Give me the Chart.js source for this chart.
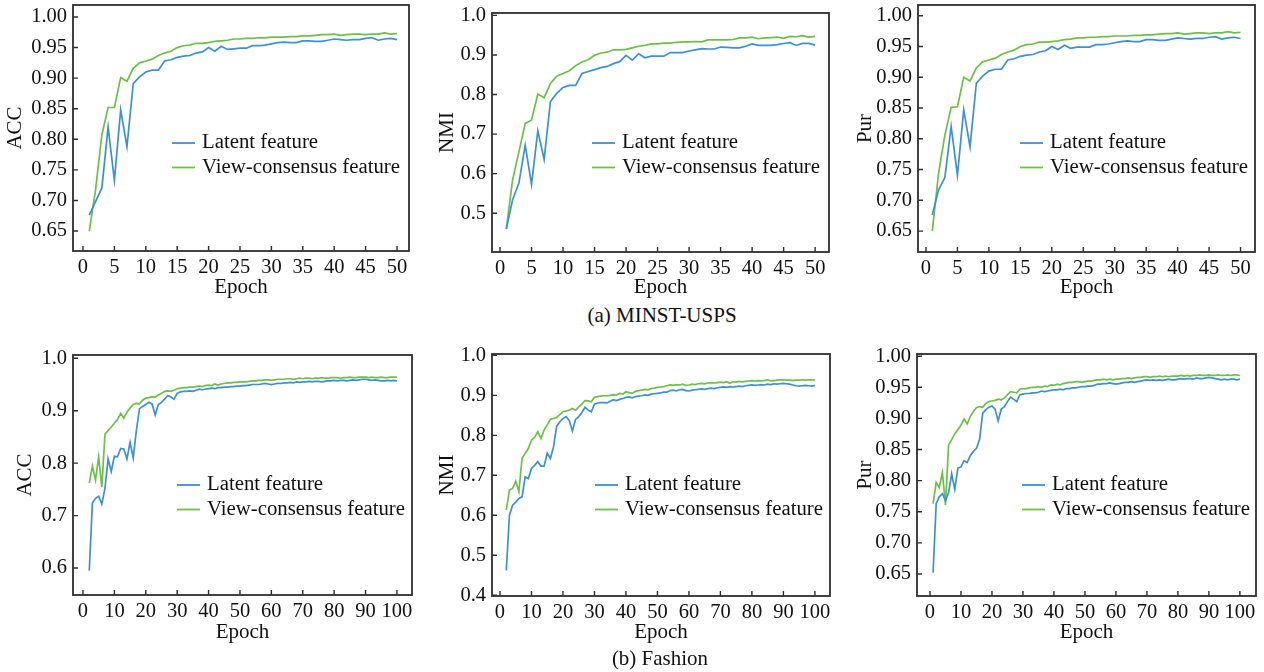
<!DOCTYPE html>
<html>
<head>
<meta charset="utf-8">
<title>Latent vs view-consensus feature</title>
<script src="https://cdn.jsdelivr.net/npm/chart.js@4.4.1/dist/chart.umd.min.js"></script>
<style>
  html, body { margin: 0; padding: 0; background: #fff; }
  body { width: 1264px; height: 672px; position: relative; overflow: hidden;
         font-family: "Liberation Serif", "Times New Roman", serif; }
  canvas { position: absolute; }
  .caption { position: absolute; font-size: 21px; color: #111; white-space: nowrap;
             transform: translate(-50%, -50%); }
</style>
</head>
<body>
<canvas id="mnistAcc"></canvas>
<canvas id="mnistNmi"></canvas>
<canvas id="mnistPur"></canvas>
<canvas id="fashionAcc"></canvas>
<canvas id="fashionNmi"></canvas>
<canvas id="fashionPur"></canvas>
<div class="caption" style="left:662px; top:315px;">(a) MINST-USPS</div>
<div class="caption" style="left:660px; top:658px;">(b) Fashion</div>

<script>
// epochs (x categories)
const epochs50 = Array.from({length: 50}, (_, i) => i + 1);
const epochs100 = Array.from({length: 100}, (_, i) => i + 1);
const epochsFrom2 = Array.from({length: 99}, (_, i) => i + 2);

// tick labels
const xTicks50 = [0, 5, 10, 15, 20, 25, 30, 35, 40, 45, 50];
const xTicks100 = [0, 10, 20, 30, 40, 50, 60, 70, 80, 90, 100];
const yTicks065 = [0.65, 0.70, 0.75, 0.80, 0.85, 0.90, 0.95, 1.00];
const yTicks05 = [0.5, 0.6, 0.7, 0.8, 0.9, 1.0];
const yTicks06 = [0.6, 0.7, 0.8, 0.9, 1.0];
const yTicks04 = [0.4, 0.5, 0.6, 0.7, 0.8, 0.9, 1.0];

const legendLabels = ['Latent feature', 'View-consensus feature'];

// (a) MINST-USPS, epochs 1..50
const mnistAccLatent = [
  0.676, 0.698, 0.720, 0.820, 0.733, 0.848, 0.788, 0.891, 0.902, 0.910,
  0.913, 0.913, 0.928, 0.930, 0.934, 0.936, 0.937, 0.941, 0.943, 0.950,
  0.944, 0.952, 0.947, 0.948, 0.949, 0.949, 0.953, 0.953, 0.954, 0.956,
  0.958, 0.959, 0.958, 0.958, 0.961, 0.961, 0.960, 0.960, 0.962, 0.964,
  0.963, 0.962, 0.963, 0.963, 0.965, 0.966, 0.962, 0.964, 0.965, 0.963];
const mnistAccView = [
  0.650, 0.717, 0.807, 0.852, 0.852, 0.901, 0.895, 0.916, 0.925, 0.928,
  0.931, 0.937, 0.941, 0.944, 0.950, 0.953, 0.954, 0.957, 0.957, 0.958,
  0.960, 0.961, 0.962, 0.964, 0.964, 0.965, 0.965, 0.966, 0.966, 0.967,
  0.967, 0.967, 0.968, 0.968, 0.969, 0.969, 0.970, 0.971, 0.971, 0.972,
  0.970, 0.971, 0.972, 0.972, 0.971, 0.972, 0.972, 0.974, 0.972, 0.973];

const mnistNmiLatent = [
  0.460, 0.534, 0.576, 0.672, 0.573, 0.708, 0.636, 0.782, 0.803, 0.818,
  0.823, 0.823, 0.853, 0.858, 0.863, 0.868, 0.871, 0.878, 0.883, 0.899,
  0.887, 0.903, 0.893, 0.897, 0.897, 0.897, 0.906, 0.906, 0.906, 0.910,
  0.913, 0.916, 0.915, 0.915, 0.920, 0.919, 0.918, 0.918, 0.922, 0.928,
  0.924, 0.924, 0.924, 0.926, 0.929, 0.931, 0.924, 0.929, 0.929, 0.925];
const mnistNmiView = [
  0.460, 0.584, 0.655, 0.727, 0.735, 0.801, 0.792, 0.828, 0.846, 0.853,
  0.860, 0.873, 0.882, 0.888, 0.899, 0.905, 0.907, 0.913, 0.913, 0.914,
  0.918, 0.922, 0.924, 0.928, 0.928, 0.930, 0.930, 0.932, 0.933, 0.933,
  0.934, 0.933, 0.938, 0.938, 0.938, 0.938, 0.939, 0.943, 0.943, 0.945,
  0.941, 0.943, 0.944, 0.945, 0.942, 0.947, 0.946, 0.949, 0.945, 0.947];

const mnistPurLatent = [
  0.676, 0.717, 0.737, 0.820, 0.741, 0.847, 0.787, 0.890, 0.902, 0.910,
  0.913, 0.913, 0.928, 0.930, 0.934, 0.936, 0.937, 0.941, 0.943, 0.950,
  0.945, 0.952, 0.947, 0.949, 0.949, 0.949, 0.953, 0.953, 0.954, 0.956,
  0.958, 0.959, 0.958, 0.958, 0.961, 0.961, 0.960, 0.960, 0.962, 0.964,
  0.963, 0.962, 0.963, 0.963, 0.965, 0.966, 0.962, 0.964, 0.965, 0.963];
const mnistPurView = [
  0.650, 0.744, 0.806, 0.851, 0.852, 0.900, 0.894, 0.915, 0.925, 0.928,
  0.931, 0.937, 0.941, 0.944, 0.950, 0.953, 0.954, 0.957, 0.957, 0.958,
  0.959, 0.961, 0.962, 0.964, 0.964, 0.965, 0.965, 0.966, 0.966, 0.967,
  0.967, 0.967, 0.968, 0.968, 0.969, 0.969, 0.970, 0.971, 0.971, 0.972,
  0.970, 0.971, 0.972, 0.972, 0.971, 0.972, 0.972, 0.974, 0.972, 0.973];

// (b) Fashion, ACC and NMI from epoch 2, Pur from epoch 1
const fashionAccLatent = [
         0.595, 0.724, 0.733, 0.737, 0.722, 0.752, 0.808, 0.784, 0.813,
  0.812, 0.828, 0.827, 0.808, 0.840, 0.810, 0.862, 0.904, 0.908, 0.912,
  0.916, 0.913, 0.892, 0.912, 0.916, 0.922, 0.929, 0.926, 0.922, 0.933,
  0.936, 0.937, 0.937, 0.938, 0.937, 0.939, 0.941, 0.940, 0.941, 0.942,
  0.943, 0.942, 0.944, 0.944, 0.945, 0.945, 0.946, 0.946, 0.947, 0.947,
  0.948, 0.948, 0.949, 0.950, 0.950, 0.950, 0.951, 0.952, 0.951, 0.950,
  0.951, 0.952, 0.952, 0.953, 0.953, 0.954, 0.953, 0.955, 0.954, 0.955,
  0.955, 0.956, 0.955, 0.956, 0.956, 0.955, 0.956, 0.957, 0.957, 0.958,
  0.957, 0.958, 0.958, 0.957, 0.958, 0.959, 0.958, 0.959, 0.960, 0.960,
  0.959, 0.958, 0.959, 0.958, 0.957, 0.957, 0.958, 0.957, 0.958, 0.957];
const fashionAccView = [
         0.762, 0.794, 0.768, 0.812, 0.754, 0.855, 0.862, 0.869, 0.876,
  0.883, 0.895, 0.886, 0.897, 0.905, 0.912, 0.914, 0.913, 0.920, 0.924,
  0.925, 0.927, 0.926, 0.930, 0.933, 0.937, 0.938, 0.937, 0.939, 0.942,
  0.943, 0.944, 0.944, 0.945, 0.945, 0.946, 0.947, 0.946, 0.948, 0.949,
  0.948, 0.951, 0.949, 0.951, 0.952, 0.953, 0.953, 0.954, 0.954, 0.955,
  0.955, 0.955, 0.956, 0.957, 0.957, 0.958, 0.958, 0.959, 0.959, 0.958,
  0.959, 0.960, 0.960, 0.960, 0.961, 0.961, 0.960, 0.961, 0.962, 0.961,
  0.962, 0.962, 0.961, 0.962, 0.962, 0.963, 0.962, 0.962, 0.963, 0.963,
  0.963, 0.962, 0.963, 0.963, 0.964, 0.963, 0.963, 0.964, 0.964, 0.964,
  0.963, 0.964, 0.963, 0.963, 0.964, 0.963, 0.963, 0.964, 0.964, 0.964];

const fashionNmiLatent = [
         0.462, 0.600, 0.625, 0.633, 0.642, 0.646, 0.696, 0.692, 0.717,
  0.725, 0.734, 0.723, 0.723, 0.755, 0.742, 0.771, 0.823, 0.834, 0.842,
  0.847, 0.837, 0.811, 0.840, 0.847, 0.857, 0.870, 0.863, 0.859, 0.878,
  0.881, 0.882, 0.882, 0.881, 0.885, 0.889, 0.887, 0.890, 0.892, 0.895,
  0.896, 0.894, 0.897, 0.898, 0.899, 0.901, 0.900, 0.903, 0.904, 0.905,
  0.906, 0.908, 0.908, 0.912, 0.913, 0.911, 0.914, 0.915, 0.912, 0.911,
  0.913, 0.914, 0.915, 0.916, 0.915, 0.917, 0.918, 0.917, 0.919, 0.920,
  0.921, 0.920, 0.922, 0.921, 0.922, 0.923, 0.922, 0.924, 0.925, 0.926,
  0.925, 0.926, 0.927, 0.926, 0.928, 0.927, 0.929, 0.928, 0.929, 0.930,
  0.929, 0.928, 0.926, 0.924, 0.923, 0.924, 0.925, 0.924, 0.923, 0.925];
const fashionNmiView = [
         0.613, 0.663, 0.667, 0.685, 0.659, 0.742, 0.755, 0.767, 0.788,
  0.795, 0.809, 0.792, 0.813, 0.826, 0.840, 0.842, 0.845, 0.852, 0.859,
  0.861, 0.863, 0.867, 0.863, 0.871, 0.878, 0.887, 0.886, 0.884, 0.895,
  0.897, 0.898, 0.899, 0.899, 0.900, 0.902, 0.901, 0.905, 0.903, 0.909,
  0.907, 0.905, 0.910, 0.912, 0.913, 0.915, 0.914, 0.917, 0.918, 0.920,
  0.921, 0.922, 0.924, 0.926, 0.925, 0.927, 0.926, 0.928, 0.925, 0.926,
  0.928, 0.927, 0.929, 0.930, 0.929, 0.931, 0.932, 0.931, 0.932, 0.933,
  0.932, 0.934, 0.930, 0.934, 0.933, 0.935, 0.934, 0.935, 0.936, 0.937,
  0.936, 0.937, 0.936, 0.937, 0.939, 0.936, 0.937, 0.938, 0.939, 0.939,
  0.938, 0.938, 0.937, 0.938, 0.938, 0.939, 0.938, 0.939, 0.939, 0.938];

const fashionPurLatent = [
  0.652, 0.763, 0.774, 0.779, 0.768, 0.780, 0.811, 0.786, 0.820, 0.822,
  0.832, 0.829, 0.840, 0.847, 0.852, 0.866, 0.908, 0.914, 0.918, 0.920,
  0.915, 0.896, 0.915, 0.919, 0.927, 0.934, 0.931, 0.927, 0.938, 0.939,
  0.940, 0.940, 0.941, 0.941, 0.942, 0.944, 0.943, 0.944, 0.945, 0.946,
  0.946, 0.947, 0.946, 0.948, 0.948, 0.949, 0.949, 0.950, 0.951, 0.951,
  0.952, 0.952, 0.953, 0.955, 0.955, 0.956, 0.956, 0.957, 0.956, 0.955,
  0.956, 0.957, 0.958, 0.958, 0.959, 0.958, 0.959, 0.960, 0.961, 0.962,
  0.961, 0.962, 0.961, 0.962, 0.961, 0.962, 0.963, 0.962, 0.962, 0.963,
  0.964, 0.963, 0.964, 0.964, 0.963, 0.965, 0.964, 0.964, 0.965, 0.966,
  0.965, 0.964, 0.963, 0.962, 0.963, 0.962, 0.963, 0.963, 0.962, 0.963];
const fashionPurView = [
  0.763, 0.797, 0.789, 0.813, 0.761, 0.857, 0.866, 0.875, 0.882, 0.889,
  0.899, 0.891, 0.903, 0.911, 0.917, 0.919, 0.918, 0.924, 0.927, 0.928,
  0.929, 0.931, 0.930, 0.933, 0.938, 0.943, 0.942, 0.941, 0.947, 0.948,
  0.948, 0.949, 0.950, 0.950, 0.951, 0.950, 0.952, 0.951, 0.954, 0.953,
  0.955, 0.954, 0.956, 0.957, 0.958, 0.958, 0.959, 0.959, 0.958, 0.959,
  0.960, 0.960, 0.961, 0.962, 0.962, 0.963, 0.962, 0.963, 0.962, 0.963,
  0.963, 0.964, 0.964, 0.965, 0.964, 0.965, 0.966, 0.966, 0.967, 0.967,
  0.966, 0.967, 0.967, 0.968, 0.967, 0.968, 0.967, 0.968, 0.968, 0.968,
  0.969, 0.968, 0.969, 0.968, 0.969, 0.969, 0.970, 0.969, 0.969, 0.970,
  0.969, 0.969, 0.970, 0.969, 0.969, 0.970, 0.969, 0.970, 0.970, 0.969];

const FONT = '"Liberation Serif", "Times New Roman", serif';
const INK = '#111';
const BLUE = '#3d8fd9';
const GREEN = '#6dbf48';

// box frame with inward ticks on bottom and left
const framePlugin = {
  id: 'frame',
  afterDraw(chart) {
    const {ctx, chartArea: a, scales} = chart;
    ctx.save();
    ctx.strokeStyle = '#2e2e2e';
    ctx.lineWidth = 1.8;
    ctx.strokeRect(a.left, a.top, a.right - a.left, a.bottom - a.top);
    ctx.lineWidth = 1.4;
    ctx.beginPath();
    scales.x.ticks.forEach(t => {
      const px = scales.x.getPixelForValue(t.value);
      ctx.moveTo(px, a.bottom);
      ctx.lineTo(px, a.bottom - 5);
    });
    scales.y.ticks.forEach(t => {
      const py = scales.y.getPixelForValue(t.value);
      ctx.moveTo(a.left, py);
      ctx.lineTo(a.left + 5, py);
    });
    ctx.stroke();
    ctx.restore();
  }
};

// legend drawn inside the plot area
const innerLegend = {
  id: 'innerLegend',
  afterDatasetsDraw(chart, args, opts) {
    const {ctx, chartArea: a} = chart;
    ctx.save();
    ctx.font = '20.8px ' + FONT;
    ctx.textBaseline = 'middle';
    ctx.fillStyle = INK;
    chart.data.datasets.forEach((ds, i) => {
      const x = a.left + opts.dx;
      const y = a.top + opts.dy + i * opts.gap;
      ctx.strokeStyle = ds.borderColor;
      ctx.lineWidth = 1.8;
      ctx.beginPath();
      ctx.moveTo(x, y);
      ctx.lineTo(x + 23, y);
      ctx.stroke();
      ctx.fillText(ds.label, x + 30, y);
    });
    ctx.restore();
  }
};

// box = canvas [left, top, width, height]; area = plot [left, right, top, bottom] in page px
const panels = [
  {id: 'mnistAcc', box: [0, 0, 420, 300], area: [73, 409, 5, 251], xr: [-1.59, 51.91], yr: [0.6173, 1.0196],
   xs: epochs50, latent: mnistAccLatent, view: mnistAccView, xt: xTicks50, yt: yTicks065, dec: 2,
   title: 'ACC', titleX: 15, titleY: 289, leg: [99, 138]},
  {id: 'mnistNmi', box: [420, 0, 420, 300], area: [492, 829, 13, 252], xr: [-1.27, 52.2], yr: [0.402, 1.006],
   xs: epochs50, latent: mnistNmiLatent, view: mnistNmiView, xt: xTicks50, yt: yTicks05, dec: 1,
   title: 'NMI', titleX: 447, titleY: 289, leg: [100, 130]},
  {id: 'mnistPur', box: [840, 0, 424, 300], area: [918, 1255, 5, 252], xr: [-1.27, 52.3], yr: [0.616, 1.0174],
   xs: epochs50, latent: mnistPurLatent, view: mnistPurView, xt: xTicks50, yt: yTicks065, dec: 2,
   title: 'Pur', titleX: 865, titleY: 289, leg: [102, 138]},
  {id: 'fashionAcc', box: [0, 330, 420, 320], area: [73, 412, 355, 595], xr: [-3.18, 104.8], yr: [0.5485, 1.0063],
   xs: epochsFrom2, latent: fashionAccLatent, view: fashionAccView, xt: xTicks100, yt: yTicks06, dec: 1,
   title: 'ACC', titleX: 25, titleY: 632, leg: [104, 130]},
  {id: 'fashionNmi', box: [420, 330, 420, 320], area: [492, 830, 354, 596], xr: [-2.54, 104.8], yr: [0.398, 1.0035],
   xs: epochsFrom2, latent: fashionNmiLatent, view: fashionNmiView, xt: xTicks100, yt: yTicks04, dec: 1,
   title: 'NMI', titleX: 447, titleY: 632, leg: [103, 131]},
  {id: 'fashionPur', box: [840, 330, 424, 320], area: [917, 1256, 354, 596], xr: [-4.19, 105.2], yr: [0.6146, 1.0035],
   xs: epochs100, latent: fashionPurLatent, view: fashionPurView, xt: xTicks100, yt: yTicks065, dec: 2,
   title: 'Pur', titleX: 865, titleY: 632, leg: [105, 131]}
];

panels.forEach(p => {
  const [bl, bt, bw, bh] = p.box;
  const [L, R, T, B] = p.area;
  const canvas = document.getElementById(p.id);
  canvas.width = bw;
  canvas.height = bh;
  canvas.style.left = bl + 'px';
  canvas.style.top = bt + 'px';
  canvas.style.width = bw + 'px';
  canvas.style.height = bh + 'px';

  const titleLH = 21 * 1.2;
  const toPoints = vals => vals.map((v, i) => ({x: p.xs[i], y: v}));

  new Chart(canvas.getContext('2d'), {
    type: 'line',
    data: {
      datasets: [
        {label: legendLabels[0], data: toPoints(p.latent), borderColor: BLUE, borderWidth: 1.7,
         pointRadius: 0, tension: 0, fill: false},
        {label: legendLabels[1], data: toPoints(p.view), borderColor: GREEN, borderWidth: 1.7,
         pointRadius: 0, tension: 0, fill: false}
      ]
    },
    options: {
      responsive: false,
      animation: false,
      events: [],
      layout: {autoPadding: false, padding: {left: 0, top: T - bt, right: bl + bw - R, bottom: 0}},
      plugins: {
        legend: {display: false},
        tooltip: {enabled: false},
        innerLegend: {dx: p.leg[0], dy: p.leg[1], gap: 24.5}
      },
      scales: {
        x: {
          type: 'linear', min: p.xr[0], max: p.xr[1],
          grid: {display: false, drawTicks: false},
          border: {display: false},
          afterBuildTicks: s => { s.ticks = p.xt.map(v => ({value: v})); },
          afterFit: s => { s.height = bt + bh - B; s.paddingLeft = 0; s.paddingRight = 0; },
          ticks: {autoSkip: false, maxRotation: 0, padding: 4, color: INK,
                  font: {family: FONT, size: 20.5}, callback: v => String(v)},
          title: {display: true, text: 'Epoch', color: INK, font: {family: FONT, size: 21},
                  padding: {top: 0, bottom: Math.max(0, bt + bh - p.titleY - titleLH / 2)}}
        },
        y: {
          type: 'linear', min: p.yr[0], max: p.yr[1],
          grid: {display: false, drawTicks: false},
          border: {display: false},
          afterBuildTicks: s => { s.ticks = p.yt.map(v => ({value: v})); },
          afterFit: s => { s.width = L - bl; s.paddingTop = 0; s.paddingBottom = 0; },
          ticks: {autoSkip: false, padding: 6, color: INK,
                  font: {family: FONT, size: 20.5}, callback: v => v.toFixed(p.dec)},
          title: {display: true, text: p.title, color: INK, font: {family: FONT, size: 21},
                  padding: {top: p.titleX - bl - titleLH / 2, bottom: 0}}
        }
      }
    },
    plugins: [framePlugin, innerLegend]
  });
});
</script>
</body>
</html>
